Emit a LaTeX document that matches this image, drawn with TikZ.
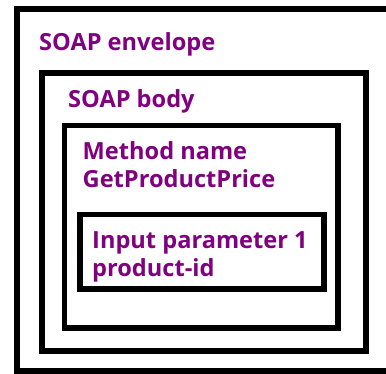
\documentclass[tikz,border=0pt]{standalone}
\usepackage{fontspec}
\setmainfont{Open Sans}
\definecolor{labelpurple}{HTML}{800080}
\begin{document}
\begin{tikzpicture}[x=1bp,y=-1bp,
  frame/.style={draw=black,line width=5.6bp},
  lbl/.style={anchor=base west,inner sep=0pt,text=labelpurple,
    font=\fontsize{23.6bp}{28.7bp}\selectfont\bfseries,align=left}]
\useasboundingbox (0,0) rectangle (386,374);
\clip (0,0) rectangle (386,374);
% nested boxes
\draw[frame] (17,9) rectangle (420,371);
\draw[frame] (42,73) rectangle (366,351);
\draw[frame] (64.5,125.5) rectangle (338,328);
\draw[frame] (80,214.5) rectangle (324,289);
% labels (the base anchor sits on the last line)
\node[lbl] (env) at (39,50) {SOAP envelope};
\node[lbl] (body) at (68,107.3) {SOAP body};
\node[lbl] (meth) at (82.5,187.7) {Method name\\GetProductPrice};
\node[lbl] (inp) at (92,276.7) {Input parameter 1\\product-id};
\end{tikzpicture}
\end{document}
